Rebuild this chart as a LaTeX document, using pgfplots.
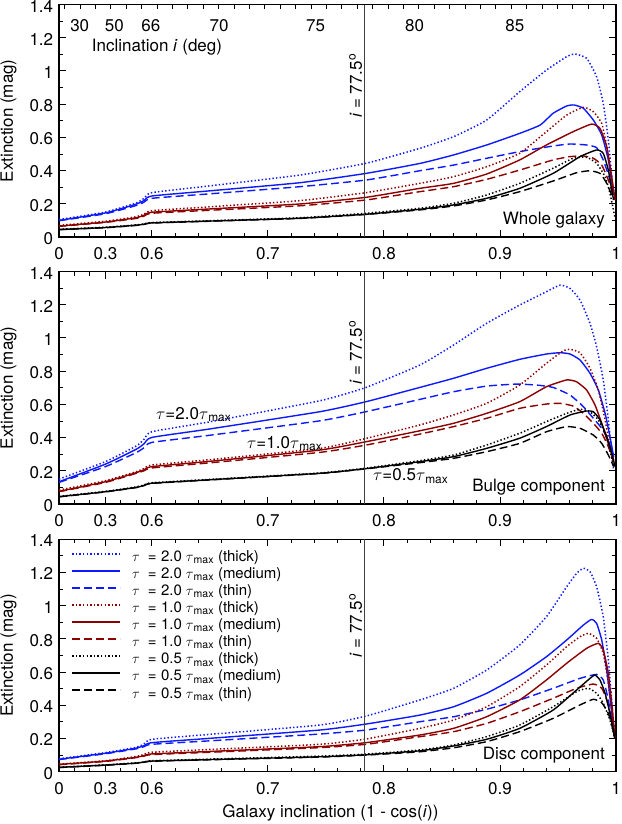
\documentclass[border=0pt]{standalone}
\usepackage{pgfplots}
\pgfplotsset{compat=1.18}
\usepackage{fontspec}
\setmainfont{TeX Gyre Heros}
\definecolor{cb}{rgb}{0.05,0.1,1.0}
\definecolor{cr}{rgb}{0.55,0.0,0.0}
\tikzset{
  thk/.style={line width=1.5pt, dash pattern=on 1.4pt off 2.2pt},
  med/.style={line width=1.4pt, solid},
  thn/.style={line width=1.4pt, dash pattern=on 8pt off 4pt},
}
\pgfplotsset{
  panel/.style={
    width=557pt, height=232.5pt, scale only axis,
    xmin=0, xmax=0.48, ymin=0, ymax=1.4,
    x filter/.expression={x<=0.6 ? x*0.13333333 : x-0.52},
    xtick={0,0.04,0.08,0.18,0.28,0.38,0.48},
    xticklabels={0,0.3,0.6,0.7,0.8,0.9,1},
    minor xtick={0.013333,0.026667,0.053333,0.066667,0.10,0.12,0.14,0.16,0.20,0.22,0.24,0.26,0.30,0.32,0.34,0.36,0.40,0.42,0.44,0.46},
    ytick={0,0.2,0.4,0.6,0.8,1,1.2,1.4},
    yticklabels={0,0.2,0.4,0.6,0.8,1,1.2,1.4},
    minor ytick={0.1,0.3,0.5,0.7,0.9,1.1,1.3},
    tick align=inside,
    major tick length=7pt, minor tick length=4pt,
    axis line style={line width=1.2pt},
    every tick/.style={black, line width=0.9pt},
    ylabel={Extinction (mag)},
    every axis y label/.style={at={(axis description cs:0,0.5)}, xshift=-50.5pt, rotate=90, anchor=center},
    xticklabel style={yshift=-5pt},
    yticklabel style={yshift=-1.5pt},
    every axis plot/.append style={line join=round, smooth, tension=0.3},
  },
}
\begin{document}
\fontsize{17}{20}\selectfont
\begin{tikzpicture}
\useasboundingbox (-59pt,-587pt) rectangle (562pt,237pt);
% ---------------- Panel 1: whole galaxy
\begin{axis}[panel, at={(0pt,0pt)}, xtick pos=left]
\addplot[color=cb,thk] coordinates {(0,0.105) (0.3,0.150) (0.5,0.205) (0.55,0.233) (0.6,0.267) (0.65,0.308) (0.7277,0.373) (0.7846,0.444) (0.831,0.534) (0.860,0.604) (0.8885,0.704) (0.917,0.875) (0.940,1.005) (0.9575,1.086) (0.9647,1.102) (0.9747,1.076) (0.9833,0.965) (0.989,0.805) (0.9934,0.584) (0.9977,0.263)};
\addplot[color=cb,med] coordinates {(0,0.100) (0.3,0.145) (0.5,0.198) (0.55,0.220) (0.6,0.247) (0.65,0.278) (0.7277,0.327) (0.7846,0.383) (0.831,0.443) (0.860,0.494) (0.8885,0.554) (0.917,0.624) (0.9346,0.674) (0.9458,0.745) (0.9575,0.789) (0.9638,0.795) (0.9719,0.775) (0.9805,0.704) (0.9877,0.614) (0.9934,0.464) (0.9977,0.265)};
\addplot[color=cb,thn] coordinates {(0,0.098) (0.3,0.140) (0.5,0.190) (0.55,0.210) (0.6,0.233) (0.65,0.260) (0.7277,0.303) (0.7846,0.343) (0.831,0.399) (0.860,0.433) (0.8885,0.474) (0.917,0.514) (0.9458,0.548) (0.9604,0.560) (0.9747,0.554) (0.9833,0.538) (0.989,0.464) (0.9948,0.343) (0.998,0.243)};
\addplot[color=cr,thk] coordinates {(0,0.070) (0.3,0.095) (0.5,0.122) (0.55,0.138) (0.6,0.158) (0.65,0.182) (0.7277,0.219) (0.7846,0.267) (0.831,0.323) (0.860,0.363) (0.8885,0.423) (0.917,0.504) (0.940,0.634) (0.9575,0.734) (0.9719,0.781) (0.9805,0.754) (0.9877,0.684) (0.992,0.544) (0.9963,0.343) (0.9992,0.223)};
\addplot[color=cr,med] coordinates {(0,0.066) (0.3,0.090) (0.5,0.116) (0.55,0.131) (0.6,0.149) (0.65,0.169) (0.7277,0.199) (0.7846,0.239) (0.831,0.293) (0.860,0.323) (0.8885,0.379) (0.917,0.464) (0.940,0.554) (0.963,0.634) (0.979,0.680) (0.9862,0.654) (0.992,0.544) (0.9963,0.363) (0.9992,0.223)};
\addplot[color=cr,thn] coordinates {(0,0.064) (0.3,0.088) (0.5,0.112) (0.55,0.126) (0.6,0.143) (0.65,0.161) (0.7277,0.188) (0.7846,0.223) (0.831,0.273) (0.860,0.303) (0.8885,0.347) (0.917,0.403) (0.9458,0.464) (0.9604,0.484) (0.9719,0.488) (0.9805,0.474) (0.9877,0.433) (0.9934,0.343) (0.998,0.243)};
\addplot[color=black,thk] coordinates {(0,0.047) (0.3,0.059) (0.5,0.073) (0.55,0.079) (0.6,0.087) (0.65,0.098) (0.7277,0.116) (0.7846,0.143) (0.831,0.173) (0.860,0.203) (0.8885,0.253) (0.917,0.323) (0.9458,0.414) (0.963,0.474) (0.9747,0.480) (0.9833,0.444) (0.9906,0.363) (0.9948,0.263) (0.999,0.12)};
\addplot[color=black,med] coordinates {(0,0.045) (0.3,0.057) (0.5,0.071) (0.55,0.077) (0.6,0.085) (0.65,0.096) (0.7277,0.113) (0.7846,0.137) (0.831,0.167) (0.860,0.193) (0.8885,0.233) (0.917,0.293) (0.9458,0.383) (0.969,0.484) (0.9833,0.524) (0.989,0.504) (0.9934,0.403) (0.9963,0.283) (0.998,0.223)};
\addplot[color=black,thn] coordinates {(0,0.044) (0.3,0.056) (0.5,0.070) (0.55,0.076) (0.6,0.084) (0.65,0.095) (0.7277,0.112) (0.7846,0.136) (0.831,0.163) (0.860,0.187) (0.8885,0.223) (0.917,0.273) (0.9458,0.337) (0.966,0.387) (0.9776,0.399) (0.9862,0.383) (0.992,0.323) (0.998,0.223)};
\addplot[black!75, line width=0.7pt, sharp plot] coordinates {(0.78356,0) (0.78356,1.4)};
\node[rotate=90, anchor=base, inner sep=0pt] at (axis cs:0.2610,0.91) {\textit{i} = 77.5\textsuperscript{o}};
\node[anchor=east, inner sep=0pt] at (axis cs:0.4705,0.10) {Whole galaxy};
\node[inner sep=0pt] at (axis cs:0.01787,1.272) {30};
\node[inner sep=0pt] at (axis cs:0.04762,1.272) {50};
\node[inner sep=0pt] at (axis cs:0.07911,1.272) {66};
\node[inner sep=0pt] at (axis cs:0.1380,1.272) {70};
\node[inner sep=0pt] at (axis cs:0.2212,1.272) {75};
\node[inner sep=0pt] at (axis cs:0.3064,1.272) {80};
\node[inner sep=0pt] at (axis cs:0.3928,1.272) {85};
\node[anchor=west, inner sep=0pt] at (axis cs:0.0282,1.146) {Inclination \textit{i} (deg)};
\end{axis}
\begin{axis}[at={(0pt,0pt)}, width=557pt, height=232.5pt, scale only axis,
  xmin=0, xmax=0.48, ymin=0, ymax=1.4, axis x line*=top, axis y line=none,
  xtick={0.00483,0.01810,...,0.4694}, xticklabels={}, tick align=inside,
  major tick length=5pt, every tick/.style={black, line width=0.9pt},
  axis line style={line width=1.2pt}]
\end{axis}
% ---------------- Panel 2: bulge
\begin{axis}[panel, at={(0pt,-267pt)}]
\addplot[color=cb,thk] coordinates {(0,0.150) (0.3,0.255) (0.5,0.350) (0.55,0.390) (0.6,0.435) (0.65,0.495) (0.745,0.622) (0.7846,0.702) (0.831,0.837) (0.860,0.957) (0.8885,1.088) (0.917,1.198) (0.940,1.278) (0.9518,1.318) (0.9604,1.298) (0.969,1.228) (0.9776,1.088) (0.9833,0.947) (0.989,0.747) (0.9934,0.506) (0.9963,0.305) (0.998,0.205)};
\addplot[color=cb,med] coordinates {(0,0.134) (0.3,0.240) (0.5,0.330) (0.55,0.363) (0.6,0.401) (0.65,0.452) (0.745,0.556) (0.7846,0.616) (0.831,0.702) (0.860,0.757) (0.8885,0.817) (0.917,0.871) (0.940,0.903) (0.9518,0.911) (0.9604,0.903) (0.969,0.867) (0.9776,0.787) (0.9848,0.686) (0.9906,0.546) (0.9948,0.405) (0.998,0.285)};
\addplot[color=cb,thn] coordinates {(0,0.130) (0.3,0.225) (0.5,0.310) (0.55,0.339) (0.6,0.371) (0.65,0.414) (0.745,0.501) (0.7846,0.556) (0.831,0.630) (0.860,0.676) (0.8885,0.710) (0.914,0.722) (0.9318,0.716) (0.9458,0.702) (0.9604,0.656) (0.9719,0.586) (0.9805,0.516) (0.9877,0.456) (0.9934,0.385) (0.998,0.285)};
\addplot[color=cr,thk] coordinates {(0,0.084) (0.3,0.140) (0.5,0.195) (0.55,0.214) (0.6,0.235) (0.65,0.267) (0.745,0.335) (0.7846,0.395) (0.831,0.476) (0.860,0.536) (0.8885,0.606) (0.917,0.716) (0.940,0.847) (0.9547,0.923) (0.9604,0.931) (0.969,0.911) (0.9776,0.817) (0.9848,0.686) (0.9906,0.506) (0.9948,0.345) (0.998,0.225)};
\addplot[color=cr,med] coordinates {(0,0.076) (0.3,0.134) (0.5,0.189) (0.55,0.206) (0.6,0.225) (0.65,0.257) (0.745,0.325) (0.7846,0.375) (0.831,0.441) (0.860,0.486) (0.8885,0.546) (0.917,0.616) (0.940,0.706) (0.9575,0.747) (0.966,0.736) (0.9747,0.686) (0.9819,0.596) (0.9877,0.486) (0.9934,0.365) (0.998,0.265)};
\addplot[color=cr,thn] coordinates {(0,0.074) (0.3,0.130) (0.5,0.185) (0.55,0.200) (0.6,0.217) (0.65,0.248) (0.745,0.311) (0.7846,0.355) (0.831,0.421) (0.860,0.466) (0.8885,0.516) (0.917,0.576) (0.940,0.602) (0.9518,0.606) (0.963,0.590) (0.9719,0.546) (0.9805,0.486) (0.9877,0.426) (0.9934,0.345) (0.998,0.255)};
\addplot[color=black,thk] coordinates {(0,0.046) (0.3,0.076) (0.5,0.103) (0.55,0.115) (0.6,0.128) (0.65,0.148) (0.745,0.187) (0.7846,0.216) (0.831,0.261) (0.860,0.295) (0.8885,0.355) (0.917,0.426) (0.940,0.496) (0.9575,0.546) (0.969,0.570) (0.9776,0.556) (0.9848,0.506) (0.9906,0.426) (0.9948,0.325) (0.998,0.225)};
\addplot[color=black,med] coordinates {(0,0.044) (0.3,0.074) (0.5,0.100) (0.55,0.112) (0.6,0.125) (0.65,0.146) (0.745,0.185) (0.7846,0.213) (0.831,0.255) (0.860,0.285) (0.8885,0.335) (0.917,0.396) (0.940,0.466) (0.9604,0.536) (0.9747,0.560) (0.9805,0.556) (0.9862,0.506) (0.992,0.405) (0.9963,0.305) (0.9992,0.225)};
\addplot[color=black,thn] coordinates {(0,0.043) (0.3,0.073) (0.5,0.099) (0.55,0.111) (0.6,0.124) (0.65,0.145) (0.745,0.184) (0.7846,0.212) (0.831,0.249) (0.860,0.275) (0.8885,0.315) (0.917,0.365) (0.940,0.435) (0.9575,0.466) (0.969,0.456) (0.9805,0.415) (0.9877,0.365) (0.9934,0.295) (0.998,0.225)};
\addplot[black!75, line width=0.7pt, sharp plot] coordinates {(0.78356,0) (0.78356,1.4)};
\node[rotate=90, anchor=base, inner sep=0pt] at (axis cs:0.2610,0.91) {\textit{i} = 77.5\textsuperscript{o}};
\node[anchor=east, inner sep=0pt] at (axis cs:0.4705,0.10) {Bulge component};
\node[anchor=base west, inner sep=0pt] at (axis cs:0.0836,0.51) {$\tau$=2.0$\tau$\textsubscript{max}};
\node[anchor=base west, inner sep=0pt] at (axis cs:0.162,0.335) {$\tau$=1.0$\tau$\textsubscript{max}};
\node[anchor=base west, inner sep=0pt] at (axis cs:0.2706,0.140) {$\tau$=0.5$\tau$\textsubscript{max}};
\end{axis}
% ---------------- Panel 3: disc
\begin{axis}[panel, at={(0pt,-534.7pt)},
  xlabel={Galaxy inclination (1 - cos(\textit{i}))},
  every axis x label/.style={at={(axis description cs:0.5,0)}, yshift=-41.6pt, xshift=-7pt, anchor=center},
  legend cell align=left,
  legend image code/.code={\draw[#1, line width=1.9pt] (0pt,3.5pt) -- (48pt,3.5pt);},
  legend style={draw=none, fill=none, at={(axis description cs:0,1)}, anchor=north west,
    xshift=12pt, yshift=-11pt, inner sep=0pt, row sep=3.6pt,
    font=\fontsize{15}{17}\selectfont,
    nodes={inner sep=0pt},
    /tikz/every odd column/.append style={column sep=11pt}},
]
\addplot[color=cb,thk] coordinates {(0,0.078) (0.3,0.115) (0.5,0.147) (0.55,0.168) (0.6,0.195) (0.65,0.225) (0.745,0.281) (0.7846,0.335) (0.831,0.432) (0.860,0.502) (0.8885,0.612) (0.917,0.763) (0.940,0.933) (0.9575,1.114) (0.966,1.194) (0.9719,1.225) (0.9776,1.204) (0.9833,1.114) (0.989,0.933) (0.9934,0.672) (0.9963,0.432) (0.998,0.271)};
\addlegendentry{$\tau$\hspace{8pt}=\hspace{4.5pt}2.0\hspace{4pt}$\tau$\textsubscript{max}\hspace{4pt}(thick)}
\addplot[color=cb,med] coordinates {(0,0.075) (0.3,0.111) (0.5,0.142) (0.55,0.157) (0.6,0.175) (0.65,0.201) (0.745,0.251) (0.7846,0.287) (0.831,0.341) (0.860,0.391) (0.8885,0.472) (0.917,0.582) (0.940,0.692) (0.9575,0.793) (0.9719,0.883) (0.979,0.917) (0.9833,0.893) (0.9877,0.793) (0.992,0.612) (0.9954,0.412) (0.998,0.251)};
\addlegendentry{$\tau$\hspace{8pt}=\hspace{4.5pt}2.0\hspace{4pt}$\tau$\textsubscript{max}\hspace{4pt}(medium)}
\addplot[color=cb,thn] coordinates {(0,0.073) (0.3,0.108) (0.5,0.138) (0.55,0.151) (0.6,0.165) (0.65,0.186) (0.745,0.227) (0.7846,0.251) (0.831,0.301) (0.860,0.331) (0.8885,0.376) (0.917,0.432) (0.9458,0.502) (0.969,0.562) (0.9833,0.586) (0.989,0.552) (0.9934,0.432) (0.9969,0.271) (0.999,0.2)};
\addlegendentry{$\tau$\hspace{8pt}=\hspace{4.5pt}2.0\hspace{4pt}$\tau$\textsubscript{max}\hspace{4pt}(thin)}
\addplot[color=cr,thk] coordinates {(0,0.046) (0.3,0.066) (0.5,0.092) (0.55,0.104) (0.6,0.117) (0.65,0.134) (0.745,0.165) (0.7846,0.197) (0.831,0.261) (0.860,0.311) (0.8885,0.391) (0.917,0.512) (0.940,0.642) (0.9575,0.753) (0.969,0.813) (0.9762,0.833) (0.9833,0.803) (0.989,0.713) (0.9934,0.532) (0.9969,0.331) (0.999,0.251)};
\addlegendentry{$\tau$\hspace{8pt}=\hspace{4.5pt}1.0\hspace{4pt}$\tau$\textsubscript{max}\hspace{4pt}(thick)}
\addplot[color=cr,med] coordinates {(0,0.044) (0.3,0.064) (0.5,0.087) (0.55,0.097) (0.6,0.107) (0.65,0.122) (0.745,0.151) (0.7846,0.175) (0.831,0.221) (0.860,0.261) (0.8885,0.331) (0.917,0.432) (0.940,0.552) (0.9575,0.653) (0.9747,0.743) (0.9848,0.773) (0.989,0.733) (0.9934,0.592) (0.9969,0.371) (0.999,0.2)};
\addlegendentry{$\tau$\hspace{8pt}=\hspace{4.5pt}1.0\hspace{4pt}$\tau$\textsubscript{max}\hspace{4pt}(medium)}
\addplot[color=cr,thn] coordinates {(0,0.042) (0.3,0.062) (0.5,0.085) (0.55,0.094) (0.6,0.103) (0.65,0.117) (0.745,0.145) (0.7846,0.165) (0.831,0.211) (0.860,0.241) (0.8885,0.291) (0.917,0.361) (0.9458,0.442) (0.966,0.502) (0.9805,0.528) (0.9877,0.502) (0.992,0.432) (0.9963,0.311) (0.999,0.2)};
\addlegendentry{$\tau$\hspace{8pt}=\hspace{4.5pt}1.0\hspace{4pt}$\tau$\textsubscript{max}\hspace{4pt}(thin)}
\addplot[color=black,thk] coordinates {(0,0.027) (0.3,0.041) (0.5,0.053) (0.55,0.059) (0.6,0.066) (0.65,0.076) (0.745,0.094) (0.7846,0.106) (0.831,0.131) (0.860,0.161) (0.8885,0.211) (0.917,0.281) (0.9458,0.391) (0.966,0.482) (0.9762,0.502) (0.9833,0.472) (0.989,0.412) (0.9948,0.311) (0.999,0.2)};
\addlegendentry{$\tau$\hspace{8pt}=\hspace{4.5pt}0.5\hspace{4pt}$\tau$\textsubscript{max}\hspace{4pt}(thick)}
\addplot[color=black,med] coordinates {(0,0.026) (0.3,0.040) (0.5,0.052) (0.55,0.058) (0.6,0.064) (0.65,0.073) (0.745,0.090) (0.7846,0.102) (0.831,0.126) (0.860,0.155) (0.8885,0.195) (0.917,0.261) (0.9458,0.371) (0.966,0.492) (0.9776,0.562) (0.9819,0.582) (0.9862,0.552) (0.9906,0.472) (0.9948,0.351) (0.999,0.2)};
\addlegendentry{$\tau$\hspace{8pt}=\hspace{4.5pt}0.5\hspace{4pt}$\tau$\textsubscript{max}\hspace{4pt}(medium)}
\addplot[color=black,thn] coordinates {(0,0.025) (0.3,0.039) (0.5,0.051) (0.55,0.057) (0.6,0.063) (0.65,0.072) (0.745,0.088) (0.7846,0.100) (0.831,0.120) (0.860,0.144) (0.8885,0.181) (0.917,0.241) (0.9458,0.321) (0.969,0.402) (0.9805,0.436) (0.9877,0.415) (0.9934,0.351) (0.999,0.22)};
\addlegendentry{$\tau$\hspace{8pt}=\hspace{4.5pt}0.5\hspace{4pt}$\tau$\textsubscript{max}\hspace{4pt}(thin)}
\addplot[black!75, line width=0.7pt, sharp plot, forget plot] coordinates {(0.78356,0) (0.78356,1.4)};
\node[rotate=90, anchor=base, inner sep=0pt] at (axis cs:0.2610,0.88) {\textit{i} = 77.5\textsuperscript{o}};
\node[anchor=east, inner sep=0pt] at (axis cs:0.4705,0.10) {Disc component};
\end{axis}
\end{tikzpicture}
\end{document}
